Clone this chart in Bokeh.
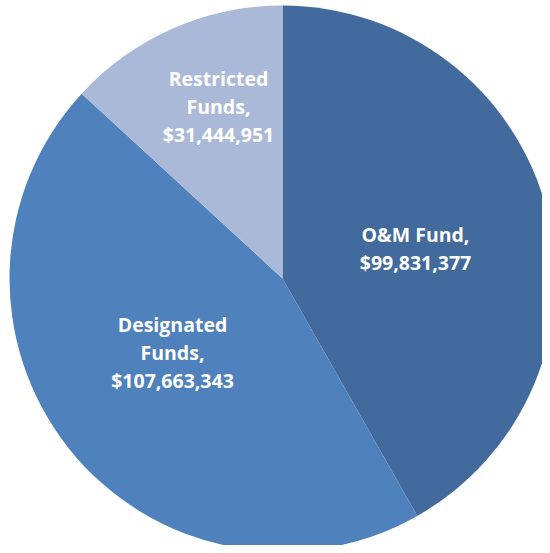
import math
from bokeh.plotting import figure
from bokeh.models import Range1d, ColumnDataSource
from bokeh.core.properties import value
from bokeh.embed import file_html
from bokeh.resources import INLINE

categories = ["O&M Fund", "Designated Funds", "Restricted Funds"]
amounts = [99831377, 107663343, 31444951]
label_texts = ["O&M Fund,\n$99,831,377", "Designated\nFunds,\n$107,663,343", "Restricted\nFunds,\n$31,444,951"]
colors = ["#426A9C", "#4F81BD", "#AAB9D7"]

W, H = 542, 545
p = figure(width=W, height=H, output_backend="svg", toolbar_location=None,
           x_range=Range1d(0, W), y_range=Range1d(0, H), min_border=0)
p.axis.visible = False
p.grid.visible = False
p.outline_line_color = None
p.background_fill_color = "white"
p.border_fill_color = "white"

cx, cy, r = 282, H - 278, 273
total = sum(amounts)
starts, ends = [], []
acc = 0
for a in amounts:
    starts.append(math.pi / 2 - 2 * math.pi * acc / total)
    acc += a
    ends.append(math.pi / 2 - 2 * math.pi * acc / total)

src = ColumnDataSource(dict(start=starts, end=ends, color=colors, cat=categories))
p.wedge(x=cx, y=cy, radius=r, start_angle="start", end_angle="end", direction="clock",
        fill_color="color", line_color=None, source=src)

# label anchor positions (screen coordinates of block centres)
lx = [415, 172, 218]
ly = [248, 352, 106]
p.text(x=lx, y=[H - v for v in ly], text=label_texts, text_align="center",
       text_baseline="middle", text_color="white", text_font=value("Open Sans"),
       text_font_style="bold", text_font_size="19.5px", text_line_height=1.02)

open("out.html", "w").write(file_html(p, INLINE))
